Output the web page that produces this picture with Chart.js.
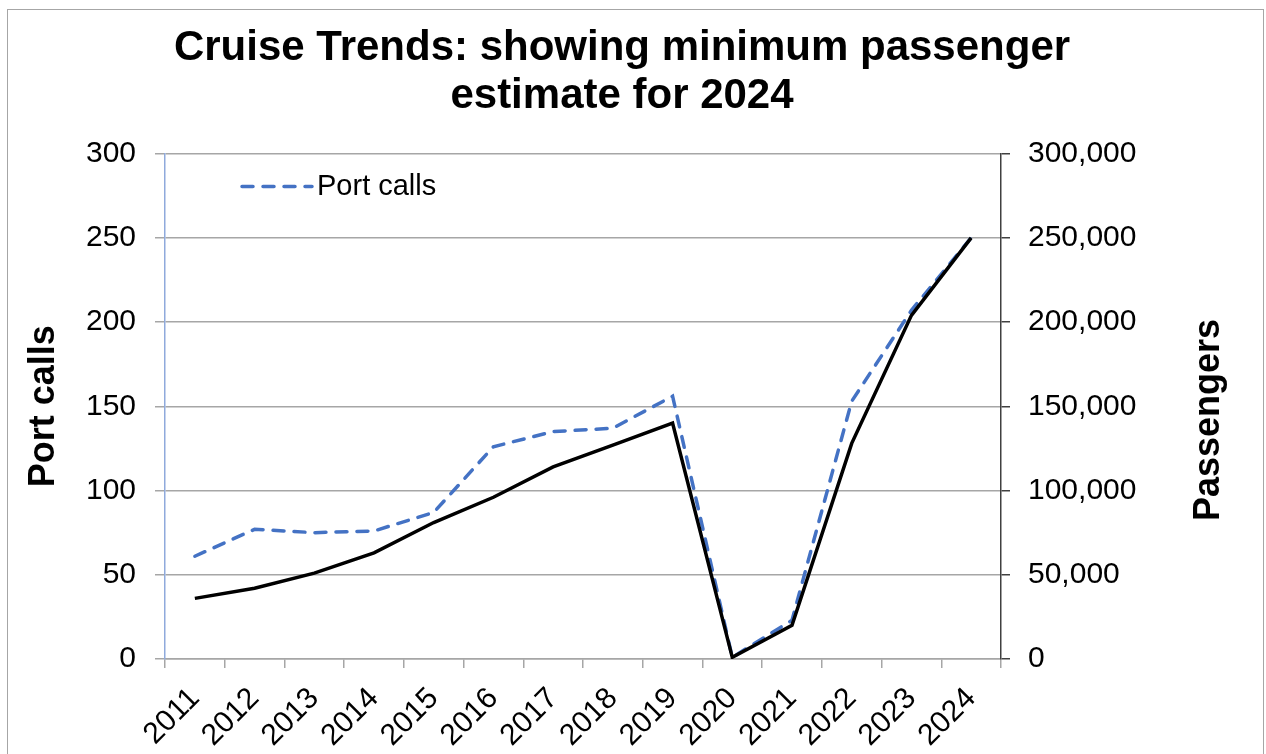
<!DOCTYPE html>
<html>
<head>
<meta charset="utf-8">
<script src="https://cdn.jsdelivr.net/npm/chart.js@4/dist/chart.umd.min.js"></script>
<style>
  html, body { margin: 0; padding: 0; background: #fff; }
  .frame { position: absolute; left: 7px; top: 9px; width: 1255px; height: 800px; border: 1px solid #a6a6a6; }
  .wrap { position: absolute; left: 0; top: 0; width: 1266px; height: 754px; }
</style>
</head>
<body>
<div class="frame"></div>
<div class="wrap"><canvas id="chart"></canvas></div>
<script>
// data
const years = ['2011', '2012', '2013', '2014', '2015', '2016', '2017', '2018', '2019', '2020', '2021', '2022', '2023', '2024'];
const portCalls = [61, 77, 75, 76, 87, 126, 135, 137, 156, 1, 23, 153, 207, 250];
const passengers = [36000, 42000, 51000, 63000, 81000, 96000, 114000, 127000, 140000, 1000, 20000, 128000, 204000, 250000];

const FONT = '"Liberation Sans", Arial, sans-serif';

// legend drawn inside the plot, only the dashed series is shown
const insideLegend = {
  id: 'insideLegend',
  afterDatasetsDraw(chart) {
    const ctx = chart.ctx;
    const ds = chart.data.datasets[0];
    const y = chart.chartArea.top + 33;
    ctx.save();
    ctx.strokeStyle = ds.borderColor;
    ctx.lineWidth = ds.borderWidth;
    ctx.setLineDash(ds.borderDash);
    ctx.lineCap = 'round';
    ctx.beginPath();
    ctx.moveTo(242, y);
    ctx.lineTo(312, y);
    ctx.stroke();
    ctx.setLineDash([]);
    ctx.fillStyle = '#000';
    ctx.font = '29px ' + FONT;
    ctx.textBaseline = 'middle';
    ctx.fillText(ds.label, 317, y);
    ctx.restore();
  }
};

// right axis title reads bottom to top
const rightTitle = {
  id: 'rightTitle',
  afterDraw(chart) {
    const ctx = chart.ctx;
    ctx.save();
    ctx.translate(1209, 420);
    ctx.rotate(-Math.PI / 2);
    ctx.font = 'bold 36px ' + FONT;
    ctx.fillStyle = '#000';
    ctx.textAlign = 'center';
    ctx.textBaseline = 'middle';
    ctx.fillText('Passengers', 0, 0);
    ctx.restore();
  }
};

new Chart(document.getElementById('chart'), {
  type: 'line',
  data: {
    labels: years,
    datasets: [
      {
        label: 'Port calls',
        data: portCalls,
        yAxisID: 'y',
        borderColor: '#4472C4',
        borderWidth: 3.5,
        borderDash: [11, 10],
        borderCapStyle: 'round',
        pointRadius: 0,
        tension: 0,
        order: 2
      },
      {
        label: 'Passengers',
        data: passengers,
        yAxisID: 'y1',
        borderColor: '#000000',
        borderWidth: 3.5,
        pointRadius: 0,
        tension: 0,
        order: 1
      }
    ]
  },
  options: {
    responsive: true,
    maintainAspectRatio: false,
    animation: false,
    layout: { padding: { left: 0, right: 22, top: 0, bottom: 0 } },
    plugins: {
      legend: { display: false },
      tooltip: { enabled: false },
      title: {
        display: true,
        text: ['Cruise Trends: showing minimum passenger', 'estimate for 2024'],
        color: '#000',
        font: { family: FONT, size: 42, weight: 'bold', lineHeight: 1.15 },
        padding: { top: 24, bottom: 33 }
      }
    },
    scales: {
      x: {
        offset: true,
        grid: { offset: true, drawOnChartArea: false, color: '#a6a6a6', lineWidth: 1.5, tickLength: 9 },
        border: { color: '#a6a6a6', width: 1.5 },
        ticks: {
          color: '#000',
          font: { family: FONT, size: 30 },
          maxRotation: 45,
          minRotation: 45,
          padding: 13,
          autoSkip: false
        },
        afterFit(scale) { scale.height = 95; }
      },
      y: {
        position: 'left',
        min: 0,
        max: 300,
        ticks: { stepSize: 50, color: '#000', font: { family: FONT, size: 30 }, padding: 19 },
        grid: { color: '#a6a6a6', lineWidth: 1.5, tickLength: 10 },
        border: { color: '#8faadc', width: 1.5 },
        title: {
          display: true,
          text: 'Port calls',
          color: '#000',
          font: { family: FONT, size: 36, weight: 'bold' },
          padding: { top: 22, bottom: 0 }
        },
        afterFit(scale) { scale.width = 165; }
      },
      y1: {
        position: 'right',
        min: 0,
        max: 300000,
        ticks: {
          stepSize: 50000,
          color: '#000',
          font: { family: FONT, size: 30 },
          padding: 18,
          callback: (v) => v.toLocaleString('en-US')
        },
        grid: { drawOnChartArea: false, color: '#404040', lineWidth: 1.5, tickLength: 9 },
        border: { color: '#404040', width: 1.5 },
        afterFit(scale) { scale.width = 243; }
      }
    }
  },
  plugins: [insideLegend, rightTitle]
});
</script>
</body>
</html>
